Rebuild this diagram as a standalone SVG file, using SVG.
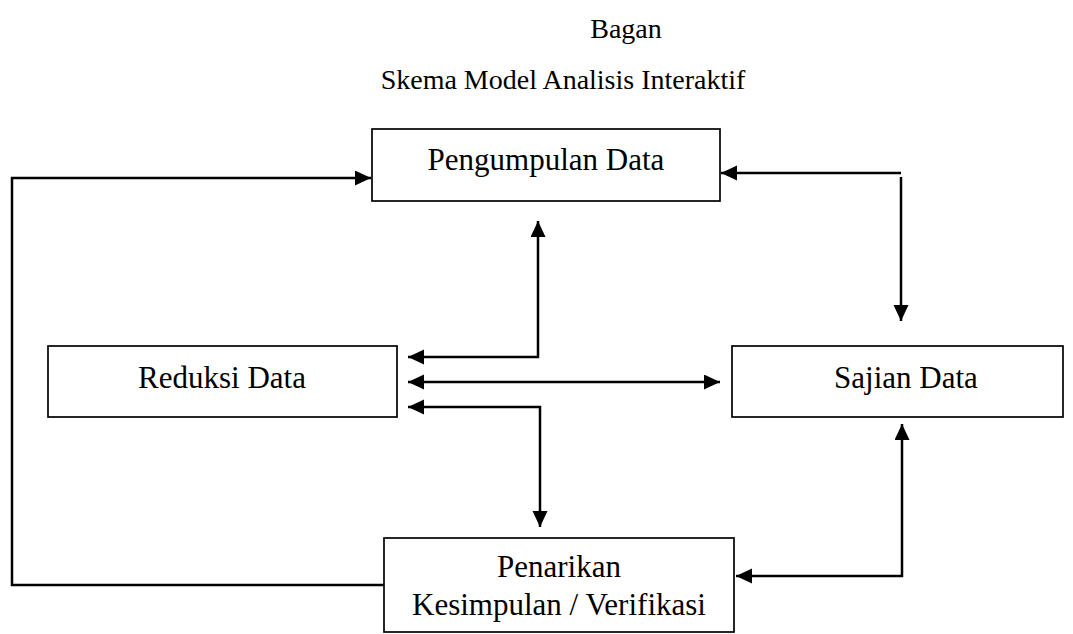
<svg xmlns="http://www.w3.org/2000/svg" width="1073" height="634" viewBox="0 0 1073 634">
  <style>
    .box { fill: #ffffff; stroke: #000000; stroke-width: 1.7; }
    .label { font-family: "Liberation Serif", "Times New Roman", serif; font-size: 31px; fill: #000000; text-anchor: middle; }
    .title { font-family: "Liberation Serif", "Times New Roman", serif; font-size: 28px; fill: #000000; text-anchor: middle; }
    .link { fill: none; stroke: #000000; stroke-width: 2.5; }
  </style>
  <defs>
    <marker id="head" markerUnits="userSpaceOnUse" markerWidth="17" markerHeight="16" refX="16" refY="7.5" orient="auto-start-reverse">
      <path d="M0,0 L16,7.5 L0,15 z" fill="#000000"/>
    </marker>
  </defs>

  <rect width="1073" height="634" fill="#ffffff"/>

  <g id="title">
    <text class="title" x="626" y="38">Bagan</text>
    <text class="title" x="563" y="89">Skema Model Analisis Interaktif</text>
  </g>

  <g id="connectors">
    <!-- feedback loop from conclusions back to collection -->
    <path class="link" d="M384,585 L12,585 L12,178 L371,178" marker-end="url(#head)"/>
    <!-- collection <-> display (right side) -->
    <path class="link" d="M901,173 L721,173" marker-end="url(#head)"/>
    <path class="link" d="M901,177 L901,321" marker-end="url(#head)"/>
    <!-- collection <-> reduction -->
    <path class="link" d="M408,357 L538,357 L538,221" marker-start="url(#head)" marker-end="url(#head)"/>
    <!-- reduction <-> display -->
    <path class="link" d="M408,382 L720,382" marker-start="url(#head)" marker-end="url(#head)"/>
    <!-- reduction <-> conclusions -->
    <path class="link" d="M408,407 L540,407 L540,527" marker-start="url(#head)" marker-end="url(#head)"/>
    <!-- conclusions <-> display -->
    <path class="link" d="M736,576 L902,576 L902,424" marker-start="url(#head)" marker-end="url(#head)"/>
  </g>

  <g id="pengumpulan">
    <rect class="box" x="372" y="129" width="348" height="72"/>
    <text class="label" x="546" y="170">Pengumpulan Data</text>
  </g>

  <g id="reduksi">
    <rect class="box" x="48" y="346" width="349" height="71"/>
    <text class="label" x="222" y="388">Reduksi Data</text>
  </g>

  <g id="sajian">
    <rect class="box" x="732" y="346" width="331" height="71"/>
    <text class="label" x="906" y="388">Sajian Data</text>
  </g>

  <g id="penarikan">
    <rect class="box" x="384" y="538" width="350" height="94"/>
    <text class="label" x="559" y="577">Penarikan</text>
    <text class="label" x="559" y="615">Kesimpulan / Verifikasi</text>
  </g>
</svg>
